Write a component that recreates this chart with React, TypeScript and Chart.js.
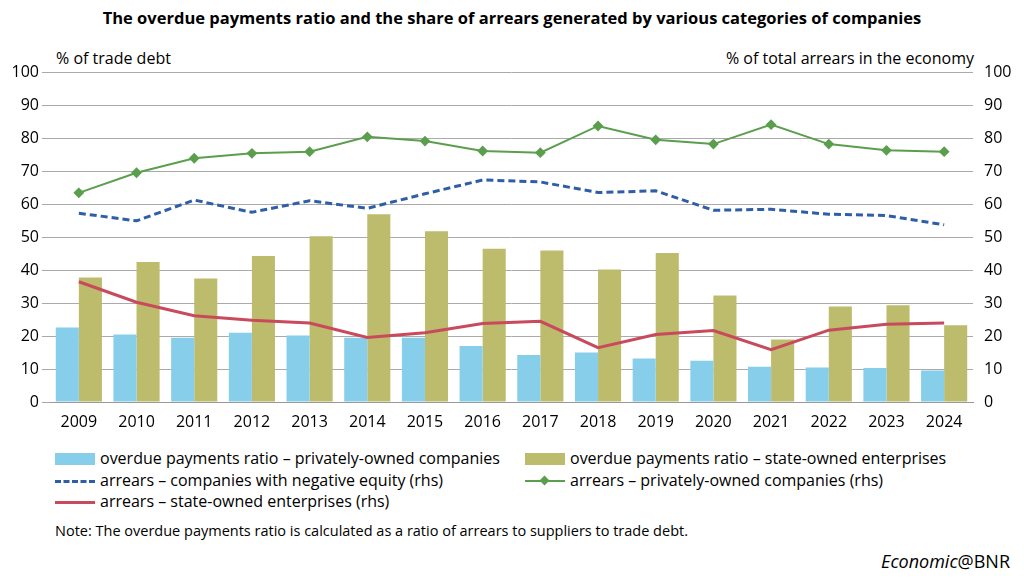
import React, { useEffect, useRef } from "react";
import { Chart, registerables } from "chart.js";
Chart.register(...registerables);

const years = ["2009","2010","2011","2012","2013","2014","2015","2016","2017","2018","2019","2020","2021","2022","2023","2024"];
const privRatio = [22.6,20.5,19.5,21,20.2,19.5,19.5,17,14.3,15,13.2,12.5,10.7,10.5,10.3,9.6];
const stateRatio = [37.8,42.5,37.5,44.3,50.3,57,51.8,46.5,46,40.2,45.2,32.3,19,29,29.4,23.3];
const negEquity = [57.3,55,61.3,57.6,61.1,58.8,63.2,67.4,66.8,63.6,64.1,58.2,58.5,57,56.6,53.8];
const privArrears = [63.5,69.6,74,75.5,76,80.5,79.2,76.2,75.7,83.8,79.6,78.3,84.2,78.3,76.4,76];
const stateArrears = [36.5,30.3,26.2,24.8,24,19.6,21,23.8,24.5,16.5,20.5,21.7,15.9,21.8,23.6,24];

const C_BLUE = "#87CEEB", C_OLIVE = "#BDBB6C", C_DASH = "#2F5EA8", C_GREEN = "#5B9E4D", C_RED = "#C84A5C";
const FONT = "'Open Sans', 'Liberation Sans', sans-serif";

export default function App() {
  const ref = useRef<HTMLCanvasElement>(null);
  useEffect(() => {
    document.body.style.margin = "0";
    const tick = { color: "#000", font: { family: FONT, size: 16 } };
    const chart = new Chart(ref.current!, {
      data: {
        labels: years,
        datasets: [
          { type: "line", data: privArrears, yAxisID: "y1", borderColor: C_GREEN, backgroundColor: C_GREEN, borderWidth: 2, pointStyle: "rectRot", pointRadius: 4, order: 1 },
          { type: "line", data: negEquity, yAxisID: "y1", borderColor: C_DASH, borderWidth: 3, borderDash: [7, 4], pointRadius: 0, order: 1 },
          { type: "line", data: stateArrears, yAxisID: "y1", borderColor: C_RED, borderWidth: 3, pointRadius: 0, order: 1 },
          { type: "bar", data: privRatio, yAxisID: "y", backgroundColor: C_BLUE, categoryPercentage: 0.8, barPercentage: 1, order: 2 },
          { type: "bar", data: stateRatio, yAxisID: "y", backgroundColor: C_OLIVE, categoryPercentage: 0.8, barPercentage: 1, order: 2 },
        ],
      } as any,
      options: {
        animation: false, responsive: false, maintainAspectRatio: false,
        layout: { padding: { top: 10, left: 0, right: 0, bottom: 0 } },
        plugins: { legend: { display: false }, tooltip: { enabled: false } },
        scales: {
          x: { grid: { display: false }, border: { color: "#999" }, ticks: tick, afterFit: (s: any) => { s.height = 28; } },
          y: { position: "left", min: 0, max: 100, ticks: { ...tick, stepSize: 10 }, border: { display: false },
               grid: { color: "#aaa", borderDash: [1, 2] } as any, afterFit: (s: any) => { s.width = 50; } },
          y1: { position: "right", min: 0, max: 100, ticks: { ...tick, stepSize: 10 }, border: { display: false },
               grid: { display: false }, afterFit: (s: any) => { s.width = 51; } },
        },
      } as any,
    });
    return () => chart.destroy();
  }, []);

  const txt: React.CSSProperties = { position: "absolute", fontFamily: FONT, fontSize: 16, color: "#000", whiteSpace: "nowrap" };
  const sw = (top: number, left: number, kind: string, color: string) => {
    const base: React.CSSProperties = { position: "absolute", top, left, width: 40 };
    if (kind === "bar") return <div style={{ ...base, height: 12, marginTop: -6, background: color }} />;
    if (kind === "dash") return <div style={{ ...base, height: 0, borderTop: `3px dashed ${color}`, marginTop: -1 }} />;
    if (kind === "diamond") return <div style={base}><div style={{ height: 2, background: color, marginTop: -1 }} /><div style={{ position: "absolute", left: 16, top: -4, width: 7, height: 7, background: color, transform: "rotate(45deg)" }} /></div>;
    return <div style={{ ...base, height: 3, marginTop: -1, background: color }} />;
  };
  return (
    <div style={{ position: "relative", width: 1024, height: 578, background: "#fff" }}>
      <div style={{ ...txt, top: 6, left: 0, width: 1024, textAlign: "center", fontWeight: "bold", fontSize: 16.5 }}>The overdue payments ratio and the share of arrears generated by various categories of companies</div>
      <div style={{ ...txt, top: 47, left: 56 }}>% of trade debt</div>
      <div style={{ ...txt, top: 47, right: 50 }}>% of total arrears in the economy</div>
      <canvas ref={ref} width={1024} height={370} style={{ position: "absolute", top: 60, left: 0 }} />
      {sw(459, 55, "bar", C_BLUE)}<div style={{ ...txt, top: 447, left: 100 }}>overdue payments ratio – privately-owned companies</div>
      {sw(459, 525, "bar", C_OLIVE)}<div style={{ ...txt, top: 447, left: 570 }}>overdue payments ratio – state-owned enterprises</div>
      {sw(481, 55, "dash", C_DASH)}<div style={{ ...txt, top: 469, left: 100 }}>arrears – companies with negative equity (rhs)</div>
      {sw(481, 525, "diamond", C_GREEN)}<div style={{ ...txt, top: 469, left: 570 }}>arrears – privately-owned companies (rhs)</div>
      {sw(502, 55, "line", C_RED)}<div style={{ ...txt, top: 490, left: 100 }}>arrears – state-owned enterprises (rhs)</div>
      <div style={{ ...txt, top: 521, left: 55, fontSize: 14.5 }}>Note: The overdue payments ratio is calculated as a ratio of arrears to suppliers to trade debt.</div>
      <div style={{ ...txt, top: 549, right: 14, fontSize: 18 }}><i>Economic</i>@BNR</div>
    </div>
  );
}
